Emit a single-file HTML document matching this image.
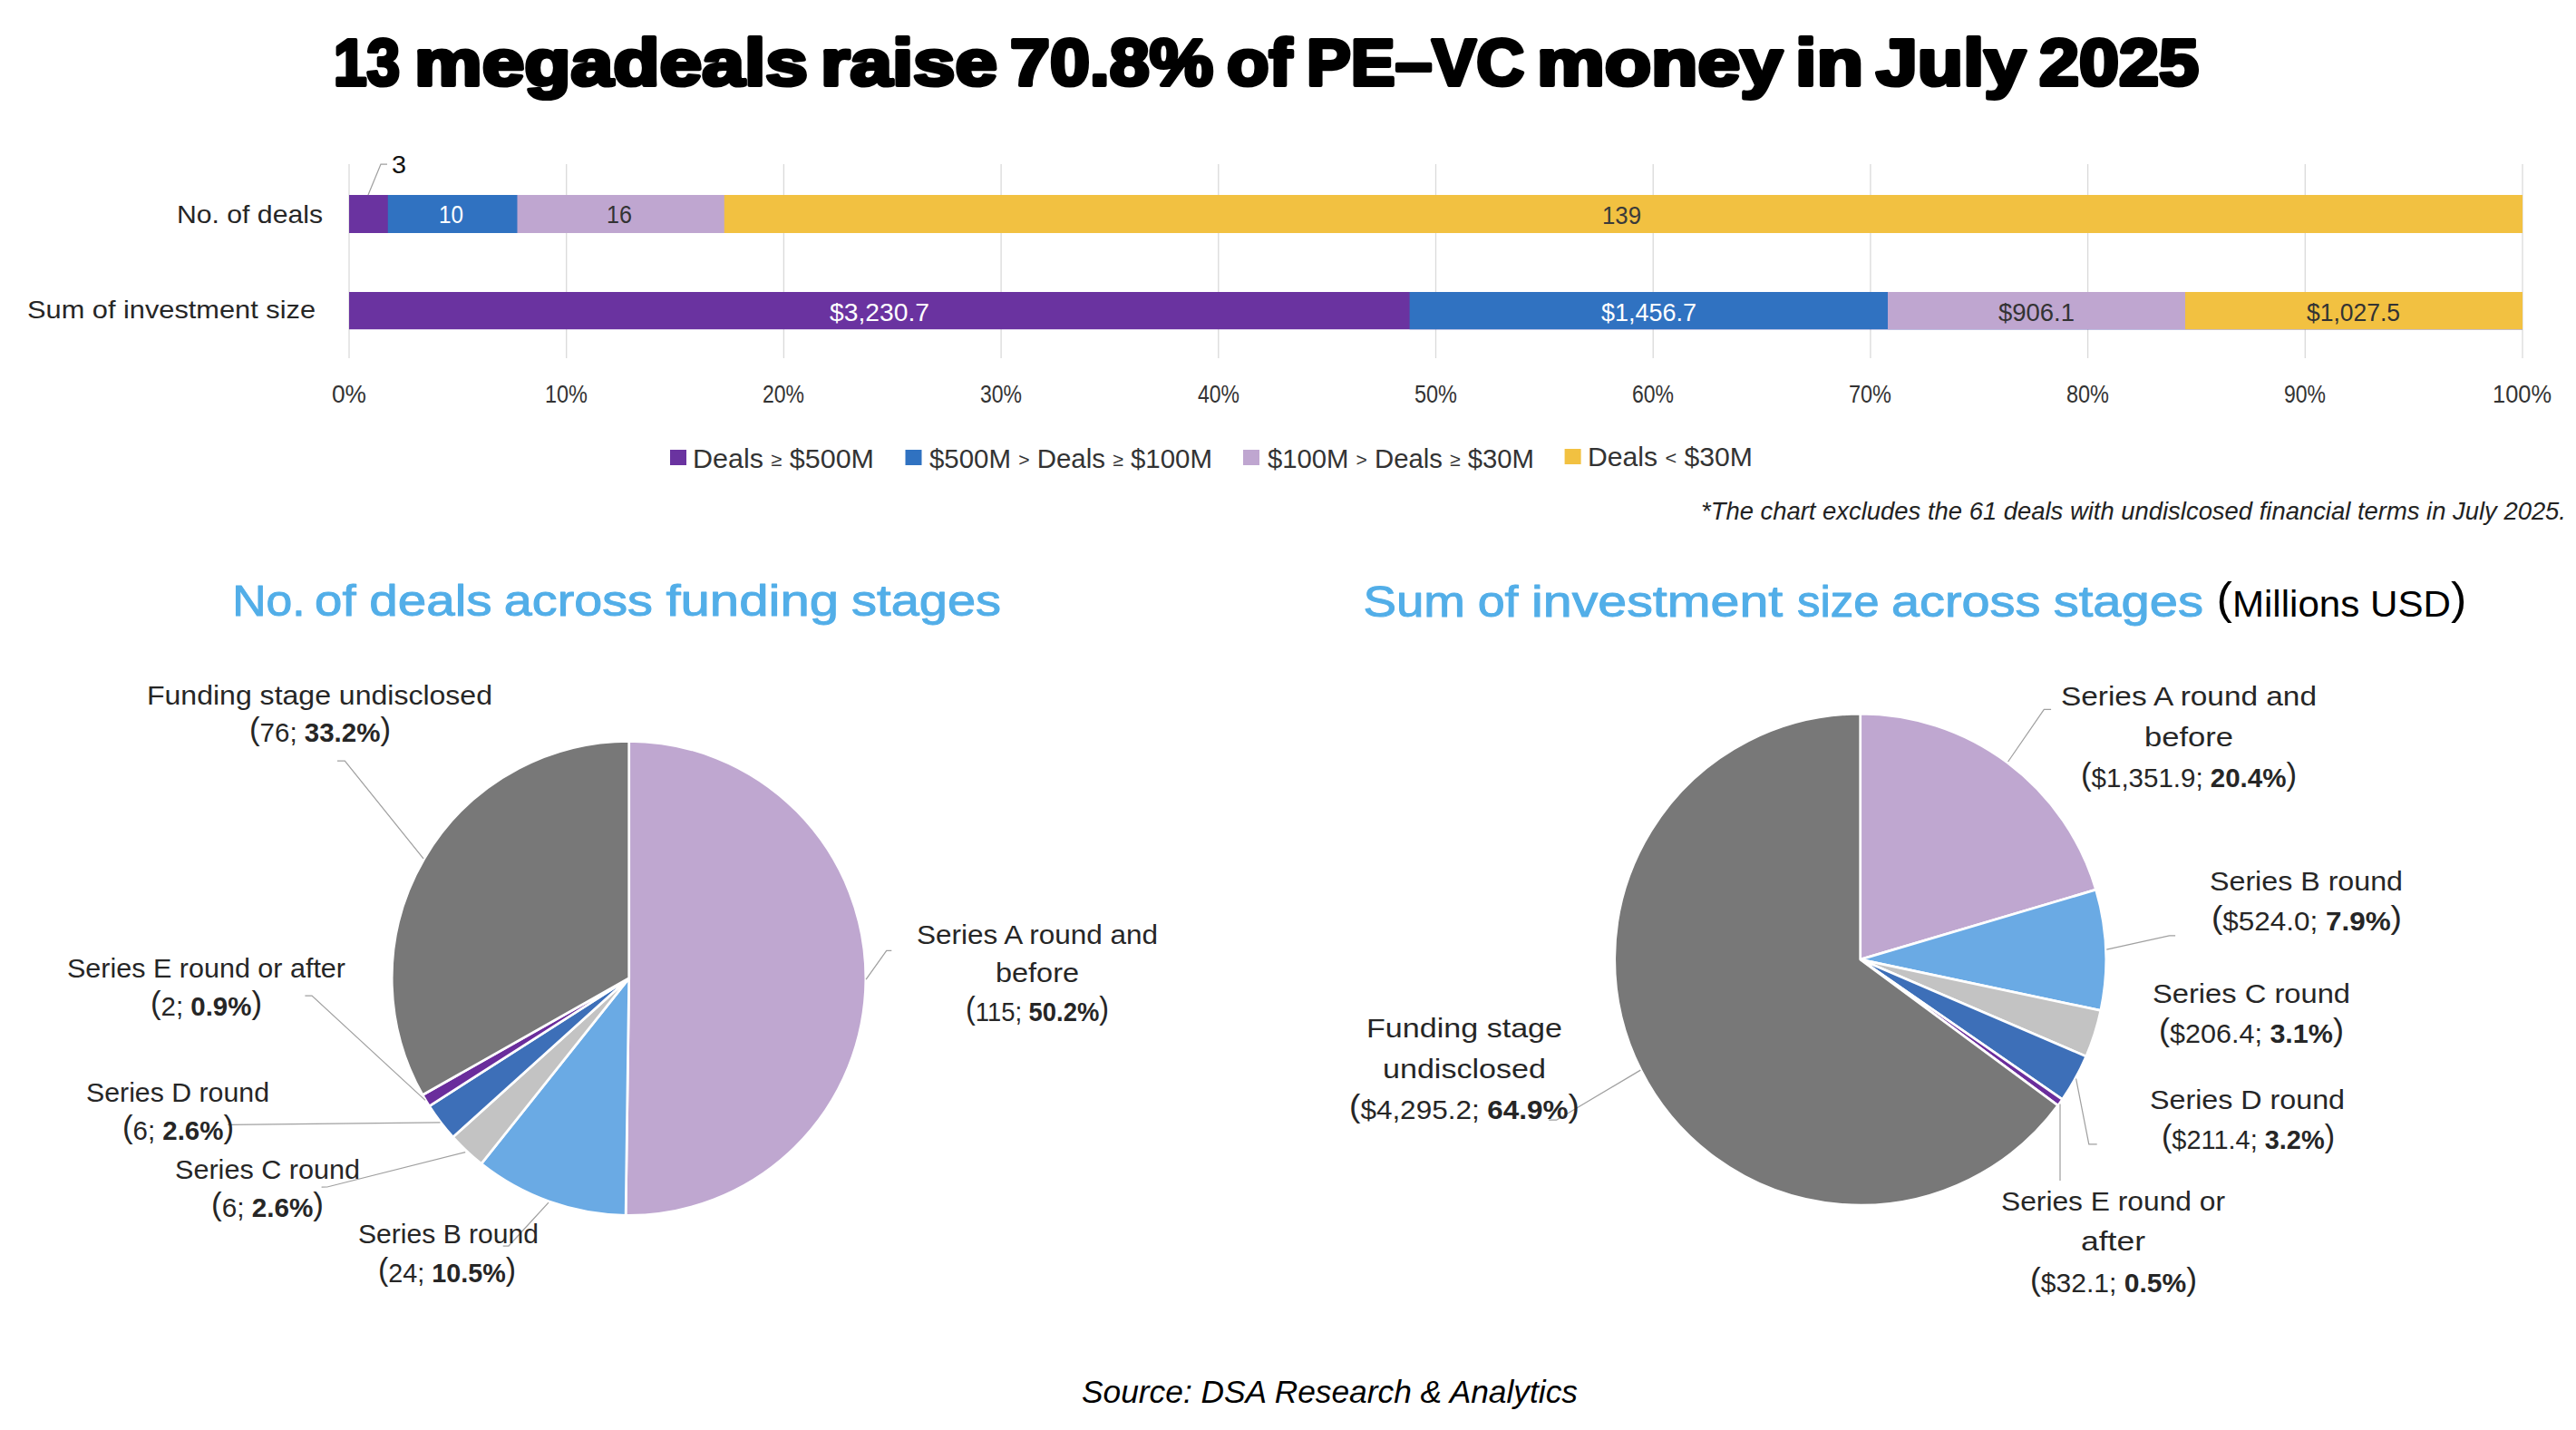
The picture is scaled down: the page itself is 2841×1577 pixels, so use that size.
<!DOCTYPE html>
<html><head><meta charset="utf-8"><title>13 megadeals raise 70.8% of PE-VC money in July 2025</title>
<style>html,body{margin:0;padding:0;background:#fff;width:2841px;height:1577px;overflow:hidden}svg{display:block}text{font-family:"Liberation Sans", sans-serif}</style>
</head><body>
<svg width="2841" height="1577" viewBox="0 0 2841 1577">
<rect width="2841" height="1577" fill="#fff"/>
<rect x="384.35" y="181" width="1.3" height="214" fill="#DADADA"/>
<rect x="624.05" y="181" width="1.3" height="214" fill="#DADADA"/>
<rect x="863.75" y="181" width="1.3" height="214" fill="#DADADA"/>
<rect x="1103.45" y="181" width="1.3" height="214" fill="#DADADA"/>
<rect x="1343.15" y="181" width="1.3" height="214" fill="#DADADA"/>
<rect x="1582.85" y="181" width="1.3" height="214" fill="#DADADA"/>
<rect x="1822.55" y="181" width="1.3" height="214" fill="#DADADA"/>
<rect x="2062.25" y="181" width="1.3" height="214" fill="#DADADA"/>
<rect x="2301.95" y="181" width="1.3" height="214" fill="#DADADA"/>
<rect x="2541.65" y="181" width="1.3" height="214" fill="#DADADA"/>
<rect x="2781.35" y="181" width="1.3" height="214" fill="#DADADA"/>
<rect x="385.00" y="215.00" width="2397.00" height="42.00" fill="#6A33A0"/>
<rect x="427.80" y="215.00" width="2354.20" height="42.00" fill="#3072C1"/>
<rect x="570.48" y="215.00" width="2211.52" height="42.00" fill="#BFA6D0"/>
<rect x="798.77" y="215.00" width="1983.23" height="42.00" fill="#F2C141"/>
<rect x="385.00" y="322.00" width="2397.00" height="41.20" fill="#6A33A0"/>
<rect x="1554.61" y="322.00" width="1227.39" height="41.20" fill="#3072C1"/>
<rect x="2081.98" y="322.00" width="700.02" height="41.20" fill="#BFA6D0"/>
<rect x="2410.01" y="322.00" width="371.99" height="41.20" fill="#F2C141"/>
<rect x="739.0" y="496.0" width="18" height="17" fill="#6A33A0"/>
<rect x="998.5" y="496.0" width="18" height="17" fill="#3072C1"/>
<rect x="1371.0" y="496.0" width="18" height="17" fill="#BFA6D0"/>
<rect x="1725.6" y="495.0" width="18" height="17" fill="#F2C141"/>
<path d="M693.70 1078.80 L693.70 817.30 A261.50 261.50 0 1 1 690.11 1340.28 Z" fill="#BFA7D0" stroke="#fff" stroke-width="2.7" stroke-linejoin="round"/>
<path d="M693.70 1078.80 L690.11 1340.28 A261.50 261.50 0 0 1 530.86 1283.41 Z" fill="#6AAAE4" stroke="#fff" stroke-width="2.7" stroke-linejoin="round"/>
<path d="M693.70 1078.80 L530.86 1283.41 A261.50 261.50 0 0 1 499.53 1253.96 Z" fill="#C3C3C3" stroke="#fff" stroke-width="2.7" stroke-linejoin="round"/>
<path d="M693.70 1078.80 L499.53 1253.96 A261.50 261.50 0 0 1 473.45 1219.77 Z" fill="#3D6FB8" stroke="#fff" stroke-width="2.7" stroke-linejoin="round"/>
<path d="M693.70 1078.80 L473.45 1219.77 A261.50 261.50 0 0 1 466.05 1207.47 Z" fill="#6A2D9C" stroke="#fff" stroke-width="2.7" stroke-linejoin="round"/>
<path d="M693.70 1078.80 L466.05 1207.47 A261.50 261.50 0 0 1 693.70 817.30 Z" fill="#787878" stroke="#fff" stroke-width="2.7" stroke-linejoin="round"/>
<path d="M2051.70 1058.10 L2051.70 787.10 A271.00 271.00 0 0 1 2311.55 981.16 Z" fill="#BFA7D0" stroke="#fff" stroke-width="2.7" stroke-linejoin="round"/>
<path d="M2051.70 1058.10 L2311.55 981.16 A271.00 271.00 0 0 1 2316.78 1114.43 Z" fill="#6AAAE4" stroke="#fff" stroke-width="2.7" stroke-linejoin="round"/>
<path d="M2051.70 1058.10 L2316.78 1114.43 A271.00 271.00 0 0 1 2300.75 1164.94 Z" fill="#C3C3C3" stroke="#fff" stroke-width="2.7" stroke-linejoin="round"/>
<path d="M2051.70 1058.10 L2300.75 1164.94 A271.00 271.00 0 0 1 2274.46 1212.43 Z" fill="#3D6FB8" stroke="#fff" stroke-width="2.7" stroke-linejoin="round"/>
<path d="M2051.70 1058.10 L2274.46 1212.43 A271.00 271.00 0 0 1 2269.66 1219.14 Z" fill="#6A2D9C" stroke="#fff" stroke-width="2.7" stroke-linejoin="round"/>
<path d="M2051.70 1058.10 L2269.66 1219.14 A271.00 271.00 0 1 1 2051.70 787.10 Z" fill="#787878" stroke="#fff" stroke-width="2.7" stroke-linejoin="round"/>
<polyline points="406.0,215.0 420.0,181.0 427.0,181.0" fill="none" stroke="#A0A0A0" stroke-width="1.25"/>
<polyline points="372.0,839.0 380.3,839.0 467.0,946.8" fill="none" stroke="#A0A0A0" stroke-width="1.25"/>
<polyline points="983.3,1048.4 977.7,1048.4 955.1,1080.1" fill="none" stroke="#A0A0A0" stroke-width="1.25"/>
<polyline points="336.4,1098.0 344.0,1098.0 469.0,1213.4" fill="none" stroke="#A0A0A0" stroke-width="1.25"/>
<polyline points="251.3,1240.4 485.5,1237.9" fill="none" stroke="#A0A0A0" stroke-width="1.25"/>
<polyline points="354.6,1309.1 360.9,1309.0 513.2,1270.6" fill="none" stroke="#A0A0A0" stroke-width="1.25"/>
<polyline points="554.7,1374.0 561.0,1374.0 605.0,1326.2" fill="none" stroke="#A0A0A0" stroke-width="1.25"/>
<polyline points="2262.1,782.3 2254.3,782.3 2214.6,840.0" fill="none" stroke="#A0A0A0" stroke-width="1.25"/>
<polyline points="2399.1,1031.8 2392.5,1031.8 2323.3,1047.2" fill="none" stroke="#A0A0A0" stroke-width="1.25"/>
<polyline points="2289.6,1189.5 2303.8,1261.8 2312.7,1261.8" fill="none" stroke="#A0A0A0" stroke-width="1.25"/>
<polyline points="2272.0,1217.4 2272.0,1302.0" fill="none" stroke="#A0A0A0" stroke-width="1.25"/>
<polyline points="1809.3,1180.1 1716.6,1235.2 1708.3,1235.2" fill="none" stroke="#A0A0A0" stroke-width="1.25"/>
<text x="368.00" y="94.00" font-size="72.00" fill="#000" stroke="#000" stroke-width="4.20" stroke-linejoin="round" textLength="73.00" lengthAdjust="spacingAndGlyphs"><tspan font-weight="bold">13</tspan></text>
<text x="457.00" y="94.00" font-size="72.00" fill="#000" stroke="#000" stroke-width="4.20" stroke-linejoin="round" textLength="434.00" lengthAdjust="spacingAndGlyphs"><tspan font-weight="bold">megadeals</tspan></text>
<text x="905.00" y="94.00" font-size="72.00" fill="#000" stroke="#000" stroke-width="4.20" stroke-linejoin="round" textLength="195.00" lengthAdjust="spacingAndGlyphs"><tspan font-weight="bold">raise</tspan></text>
<text x="1114.00" y="94.00" font-size="72.00" fill="#000" stroke="#000" stroke-width="4.20" stroke-linejoin="round" textLength="224.00" lengthAdjust="spacingAndGlyphs"><tspan font-weight="bold">70.8%</tspan></text>
<text x="1353.00" y="94.00" font-size="72.00" fill="#000" stroke="#000" stroke-width="4.20" stroke-linejoin="round" textLength="72.00" lengthAdjust="spacingAndGlyphs"><tspan font-weight="bold">of</tspan></text>
<text x="1441.00" y="94.00" font-size="72.00" fill="#000" stroke="#000" stroke-width="4.20" stroke-linejoin="round" textLength="240.00" lengthAdjust="spacingAndGlyphs"><tspan font-weight="bold">PE–VC</tspan></text>
<text x="1695.00" y="94.00" font-size="72.00" fill="#000" stroke="#000" stroke-width="4.20" stroke-linejoin="round" textLength="271.00" lengthAdjust="spacingAndGlyphs"><tspan font-weight="bold">money</tspan></text>
<text x="1980.00" y="94.00" font-size="72.00" fill="#000" stroke="#000" stroke-width="4.20" stroke-linejoin="round" textLength="75.00" lengthAdjust="spacingAndGlyphs"><tspan font-weight="bold">in</tspan></text>
<text x="2069.00" y="94.00" font-size="72.00" fill="#000" stroke="#000" stroke-width="4.20" stroke-linejoin="round" textLength="165.00" lengthAdjust="spacingAndGlyphs"><tspan font-weight="bold">July</tspan></text>
<text x="2249.00" y="94.00" font-size="72.00" fill="#000" stroke="#000" stroke-width="4.20" stroke-linejoin="round" textLength="176.00" lengthAdjust="spacingAndGlyphs"><tspan font-weight="bold">2025</tspan></text>
<text x="195.00" y="245.80" font-size="28.50" fill="#262626" textLength="161.00" lengthAdjust="spacingAndGlyphs">No. of deals</text>
<text x="30.00" y="351.40" font-size="28.50" fill="#262626" textLength="318.00" lengthAdjust="spacingAndGlyphs">Sum of investment size</text>
<text x="432.00" y="191.00" font-size="28.50" fill="#111" textLength="16.00" lengthAdjust="spacingAndGlyphs">3</text>
<text x="484.00" y="246.40" font-size="28.50" fill="#fff" textLength="27.00" lengthAdjust="spacingAndGlyphs">10</text>
<text x="669.00" y="246.40" font-size="28.50" fill="#333" textLength="28.00" lengthAdjust="spacingAndGlyphs">16</text>
<text x="1767.00" y="246.90" font-size="28.50" fill="#3a3a3a" textLength="43.00" lengthAdjust="spacingAndGlyphs">139</text>
<text x="915.00" y="353.70" font-size="28.50" fill="#fff" textLength="110.00" lengthAdjust="spacingAndGlyphs">$3,230.7</text>
<text x="1766.00" y="353.70" font-size="28.50" fill="#fff" textLength="105.00" lengthAdjust="spacingAndGlyphs">$1,456.7</text>
<text x="2204.00" y="353.50" font-size="28.50" fill="#333" textLength="84.00" lengthAdjust="spacingAndGlyphs">$906.1</text>
<text x="2544.00" y="353.50" font-size="28.50" fill="#333" textLength="103.00" lengthAdjust="spacingAndGlyphs">$1,027.5</text>
<text x="366.00" y="444.00" font-size="28.50" fill="#333" textLength="38.00" lengthAdjust="spacingAndGlyphs">0%</text>
<text x="601.00" y="444.00" font-size="28.50" fill="#333" textLength="47.00" lengthAdjust="spacingAndGlyphs">10%</text>
<text x="841.00" y="444.00" font-size="28.50" fill="#333" textLength="46.00" lengthAdjust="spacingAndGlyphs">20%</text>
<text x="1081.00" y="444.00" font-size="28.50" fill="#333" textLength="46.00" lengthAdjust="spacingAndGlyphs">30%</text>
<text x="1321.00" y="444.00" font-size="28.50" fill="#333" textLength="46.00" lengthAdjust="spacingAndGlyphs">40%</text>
<text x="1560.00" y="444.00" font-size="28.50" fill="#333" textLength="47.00" lengthAdjust="spacingAndGlyphs">50%</text>
<text x="1800.00" y="444.00" font-size="28.50" fill="#333" textLength="46.00" lengthAdjust="spacingAndGlyphs">60%</text>
<text x="2039.00" y="444.00" font-size="28.50" fill="#333" textLength="47.00" lengthAdjust="spacingAndGlyphs">70%</text>
<text x="2279.00" y="444.00" font-size="28.50" fill="#333" textLength="47.00" lengthAdjust="spacingAndGlyphs">80%</text>
<text x="2519.00" y="444.00" font-size="28.50" fill="#333" textLength="46.00" lengthAdjust="spacingAndGlyphs">90%</text>
<text x="2749.00" y="444.00" font-size="28.50" fill="#333" textLength="65.00" lengthAdjust="spacingAndGlyphs">100%</text>
<text x="764.00" y="516.00" font-size="29.00" fill="#333" textLength="200.00" lengthAdjust="spacingAndGlyphs">Deals <tspan dy="-2.00" font-size="20.88">≥</tspan><tspan dy="2.00"> $500M</tspan></text>
<text x="1025.00" y="516.00" font-size="29.00" fill="#333" textLength="312.00" lengthAdjust="spacingAndGlyphs">$500M <tspan dy="-2.00" font-size="20.88">&gt;</tspan><tspan dy="2.00"> Deals </tspan><tspan dy="-2.00" font-size="20.88">≥</tspan><tspan dy="2.00"> $100M</tspan></text>
<text x="1398.00" y="516.00" font-size="29.00" fill="#333" textLength="294.00" lengthAdjust="spacingAndGlyphs">$100M <tspan dy="-2.00" font-size="20.88">&gt;</tspan><tspan dy="2.00"> Deals </tspan><tspan dy="-2.00" font-size="20.88">≥</tspan><tspan dy="2.00"> $30M</tspan></text>
<text x="1751.00" y="513.50" font-size="29.00" fill="#333" textLength="182.00" lengthAdjust="spacingAndGlyphs">Deals <tspan dy="-2.00" font-size="20.88">&lt;</tspan><tspan dy="2.00"> $30M</tspan></text>
<text x="1876.00" y="572.60" font-size="27.60" fill="#222" font-style="italic" textLength="954.00" lengthAdjust="spacingAndGlyphs">*The chart excludes the 61 deals with undislcosed financial terms in July 2025.</text>
<text x="256.20" y="678.80" font-size="49.00" fill="#52AEE8" stroke="#52AEE8" stroke-width="1.00" stroke-linejoin="round" textLength="80.40" lengthAdjust="spacingAndGlyphs">No.</text>
<text x="347.10" y="678.80" font-size="49.00" fill="#52AEE8" stroke="#52AEE8" stroke-width="1.00" stroke-linejoin="round" textLength="45.50" lengthAdjust="spacingAndGlyphs">of</text>
<text x="407.30" y="678.80" font-size="49.00" fill="#52AEE8" stroke="#52AEE8" stroke-width="1.00" stroke-linejoin="round" textLength="135.30" lengthAdjust="spacingAndGlyphs">deals</text>
<text x="555.80" y="678.80" font-size="49.00" fill="#52AEE8" stroke="#52AEE8" stroke-width="1.00" stroke-linejoin="round" textLength="164.20" lengthAdjust="spacingAndGlyphs">across</text>
<text x="734.40" y="678.80" font-size="49.00" fill="#52AEE8" stroke="#52AEE8" stroke-width="1.00" stroke-linejoin="round" textLength="190.70" lengthAdjust="spacingAndGlyphs">funding</text>
<text x="939.10" y="678.80" font-size="49.00" fill="#52AEE8" stroke="#52AEE8" stroke-width="1.00" stroke-linejoin="round" textLength="164.90" lengthAdjust="spacingAndGlyphs">stages</text>
<text x="1503.40" y="679.60" font-size="49.00" fill="#52AEE8" stroke="#52AEE8" stroke-width="1.00" stroke-linejoin="round" textLength="112.60" lengthAdjust="spacingAndGlyphs">Sum</text>
<text x="1629.70" y="679.60" font-size="49.00" fill="#52AEE8" stroke="#52AEE8" stroke-width="1.00" stroke-linejoin="round" textLength="44.90" lengthAdjust="spacingAndGlyphs">of</text>
<text x="1689.10" y="679.60" font-size="49.00" fill="#52AEE8" stroke="#52AEE8" stroke-width="1.00" stroke-linejoin="round" textLength="277.10" lengthAdjust="spacingAndGlyphs">investment</text>
<text x="1982.10" y="679.60" font-size="49.00" fill="#52AEE8" stroke="#52AEE8" stroke-width="1.00" stroke-linejoin="round" textLength="90.50" lengthAdjust="spacingAndGlyphs">size</text>
<text x="2086.10" y="679.60" font-size="49.00" fill="#52AEE8" stroke="#52AEE8" stroke-width="1.00" stroke-linejoin="round" textLength="164.30" lengthAdjust="spacingAndGlyphs">across</text>
<text x="2264.70" y="679.60" font-size="49.00" fill="#52AEE8" stroke="#52AEE8" stroke-width="1.00" stroke-linejoin="round" textLength="165.30" lengthAdjust="spacingAndGlyphs">stages</text>
<text x="2444.50" y="679.60" font-size="40.00" fill="#000" textLength="275.90" lengthAdjust="spacingAndGlyphs"><tspan dy="-3.00" font-size="49.60">(</tspan><tspan dy="3.00">Millions USD</tspan><tspan dy="-3.00" font-size="49.60">)</tspan><tspan dy="3.00">​</tspan></text>
<text x="162.00" y="777.00" font-size="29.40" fill="#262626" textLength="381.00" lengthAdjust="spacingAndGlyphs">Funding stage undisclosed</text>
<text x="275.00" y="818.00" font-size="29.40" fill="#262626" textLength="156.00" lengthAdjust="spacingAndGlyphs"><tspan dy="-1.80" font-size="34.69">(</tspan><tspan dy="1.80">76; </tspan><tspan font-weight="bold">33.2%</tspan><tspan dy="-1.80" font-size="34.69">)</tspan><tspan dy="1.80">​</tspan></text>
<text x="1011.00" y="1041.00" font-size="29.40" fill="#262626" textLength="266.00" lengthAdjust="spacingAndGlyphs">Series A round and</text>
<text x="1098.00" y="1082.90" font-size="29.40" fill="#262626" textLength="92.00" lengthAdjust="spacingAndGlyphs">before</text>
<text x="1065.00" y="1125.50" font-size="29.40" fill="#262626" textLength="158.00" lengthAdjust="spacingAndGlyphs"><tspan dy="-1.80" font-size="34.69">(</tspan><tspan dy="1.80">115; </tspan><tspan font-weight="bold">50.2%</tspan><tspan dy="-1.80" font-size="34.69">)</tspan><tspan dy="1.80">​</tspan></text>
<text x="74.00" y="1077.70" font-size="29.40" fill="#262626" textLength="307.00" lengthAdjust="spacingAndGlyphs">Series E round or after</text>
<text x="166.00" y="1119.60" font-size="29.40" fill="#262626" textLength="123.00" lengthAdjust="spacingAndGlyphs"><tspan dy="-1.80" font-size="34.69">(</tspan><tspan dy="1.80">2; </tspan><tspan font-weight="bold">0.9%</tspan><tspan dy="-1.80" font-size="34.69">)</tspan><tspan dy="1.80">​</tspan></text>
<text x="95.00" y="1214.70" font-size="29.40" fill="#262626" textLength="202.00" lengthAdjust="spacingAndGlyphs">Series D round</text>
<text x="135.00" y="1256.70" font-size="29.40" fill="#262626" textLength="123.00" lengthAdjust="spacingAndGlyphs"><tspan dy="-1.80" font-size="34.69">(</tspan><tspan dy="1.80">6; </tspan><tspan font-weight="bold">2.6%</tspan><tspan dy="-1.80" font-size="34.69">)</tspan><tspan dy="1.80">​</tspan></text>
<text x="193.00" y="1299.50" font-size="29.40" fill="#262626" textLength="204.00" lengthAdjust="spacingAndGlyphs">Series C round</text>
<text x="233.00" y="1341.80" font-size="29.40" fill="#262626" textLength="124.00" lengthAdjust="spacingAndGlyphs"><tspan dy="-1.80" font-size="34.69">(</tspan><tspan dy="1.80">6; </tspan><tspan font-weight="bold">2.6%</tspan><tspan dy="-1.80" font-size="34.69">)</tspan><tspan dy="1.80">​</tspan></text>
<text x="395.00" y="1370.80" font-size="29.40" fill="#262626" textLength="199.00" lengthAdjust="spacingAndGlyphs">Series B round</text>
<text x="417.00" y="1413.60" font-size="29.40" fill="#262626" textLength="152.00" lengthAdjust="spacingAndGlyphs"><tspan dy="-1.80" font-size="34.69">(</tspan><tspan dy="1.80">24; </tspan><tspan font-weight="bold">10.5%</tspan><tspan dy="-1.80" font-size="34.69">)</tspan><tspan dy="1.80">​</tspan></text>
<text x="2273.00" y="777.50" font-size="30.00" fill="#262626" textLength="282.00" lengthAdjust="spacingAndGlyphs">Series A round and</text>
<text x="2365.00" y="822.50" font-size="30.00" fill="#262626" textLength="98.00" lengthAdjust="spacingAndGlyphs">before</text>
<text x="2295.00" y="868.00" font-size="30.00" fill="#262626" textLength="238.00" lengthAdjust="spacingAndGlyphs"><tspan dy="-1.80" font-size="35.40">(</tspan><tspan dy="1.80">$1,351.9; </tspan><tspan font-weight="bold">20.4%</tspan><tspan dy="-1.80" font-size="35.40">)</tspan><tspan dy="1.80">​</tspan></text>
<text x="2437.00" y="982.10" font-size="30.00" fill="#262626" textLength="213.00" lengthAdjust="spacingAndGlyphs">Series B round</text>
<text x="2439.00" y="1026.20" font-size="30.00" fill="#262626" textLength="210.00" lengthAdjust="spacingAndGlyphs"><tspan dy="-1.80" font-size="35.40">(</tspan><tspan dy="1.80">$524.0; </tspan><tspan font-weight="bold">7.9%</tspan><tspan dy="-1.80" font-size="35.40">)</tspan><tspan dy="1.80">​</tspan></text>
<text x="2374.00" y="1105.70" font-size="30.00" fill="#262626" textLength="218.00" lengthAdjust="spacingAndGlyphs">Series C round</text>
<text x="2381.00" y="1149.80" font-size="30.00" fill="#262626" textLength="204.00" lengthAdjust="spacingAndGlyphs"><tspan dy="-1.80" font-size="35.40">(</tspan><tspan dy="1.80">$206.4; </tspan><tspan font-weight="bold">3.1%</tspan><tspan dy="-1.80" font-size="35.40">)</tspan><tspan dy="1.80">​</tspan></text>
<text x="2371.00" y="1223.20" font-size="30.00" fill="#262626" textLength="215.00" lengthAdjust="spacingAndGlyphs">Series D round</text>
<text x="2384.00" y="1266.80" font-size="30.00" fill="#262626" textLength="191.00" lengthAdjust="spacingAndGlyphs"><tspan dy="-1.80" font-size="35.40">(</tspan><tspan dy="1.80">$211.4; </tspan><tspan font-weight="bold">3.2%</tspan><tspan dy="-1.80" font-size="35.40">)</tspan><tspan dy="1.80">​</tspan></text>
<text x="1507.00" y="1144.10" font-size="30.00" fill="#262626" textLength="216.00" lengthAdjust="spacingAndGlyphs">Funding stage</text>
<text x="1525.00" y="1188.70" font-size="30.00" fill="#262626" textLength="180.00" lengthAdjust="spacingAndGlyphs">undisclosed</text>
<text x="1488.00" y="1233.90" font-size="30.00" fill="#262626" textLength="254.00" lengthAdjust="spacingAndGlyphs"><tspan dy="-1.80" font-size="35.40">(</tspan><tspan dy="1.80">$4,295.2; </tspan><tspan font-weight="bold">64.9%</tspan><tspan dy="-1.80" font-size="35.40">)</tspan><tspan dy="1.80">​</tspan></text>
<text x="2207.00" y="1334.70" font-size="30.00" fill="#262626" textLength="247.00" lengthAdjust="spacingAndGlyphs">Series E round or</text>
<text x="2295.00" y="1379.40" font-size="30.00" fill="#262626" textLength="71.00" lengthAdjust="spacingAndGlyphs">after</text>
<text x="2239.00" y="1424.70" font-size="30.00" fill="#262626" textLength="184.00" lengthAdjust="spacingAndGlyphs"><tspan dy="-1.80" font-size="35.40">(</tspan><tspan dy="1.80">$32.1; </tspan><tspan font-weight="bold">0.5%</tspan><tspan dy="-1.80" font-size="35.40">)</tspan><tspan dy="1.80">​</tspan></text>
<text x="1193.00" y="1547.30" font-size="34.40" fill="#000" font-style="italic" textLength="547.00" lengthAdjust="spacingAndGlyphs">Source: DSA Research &amp; Analytics</text>
</svg>
</body></html>
